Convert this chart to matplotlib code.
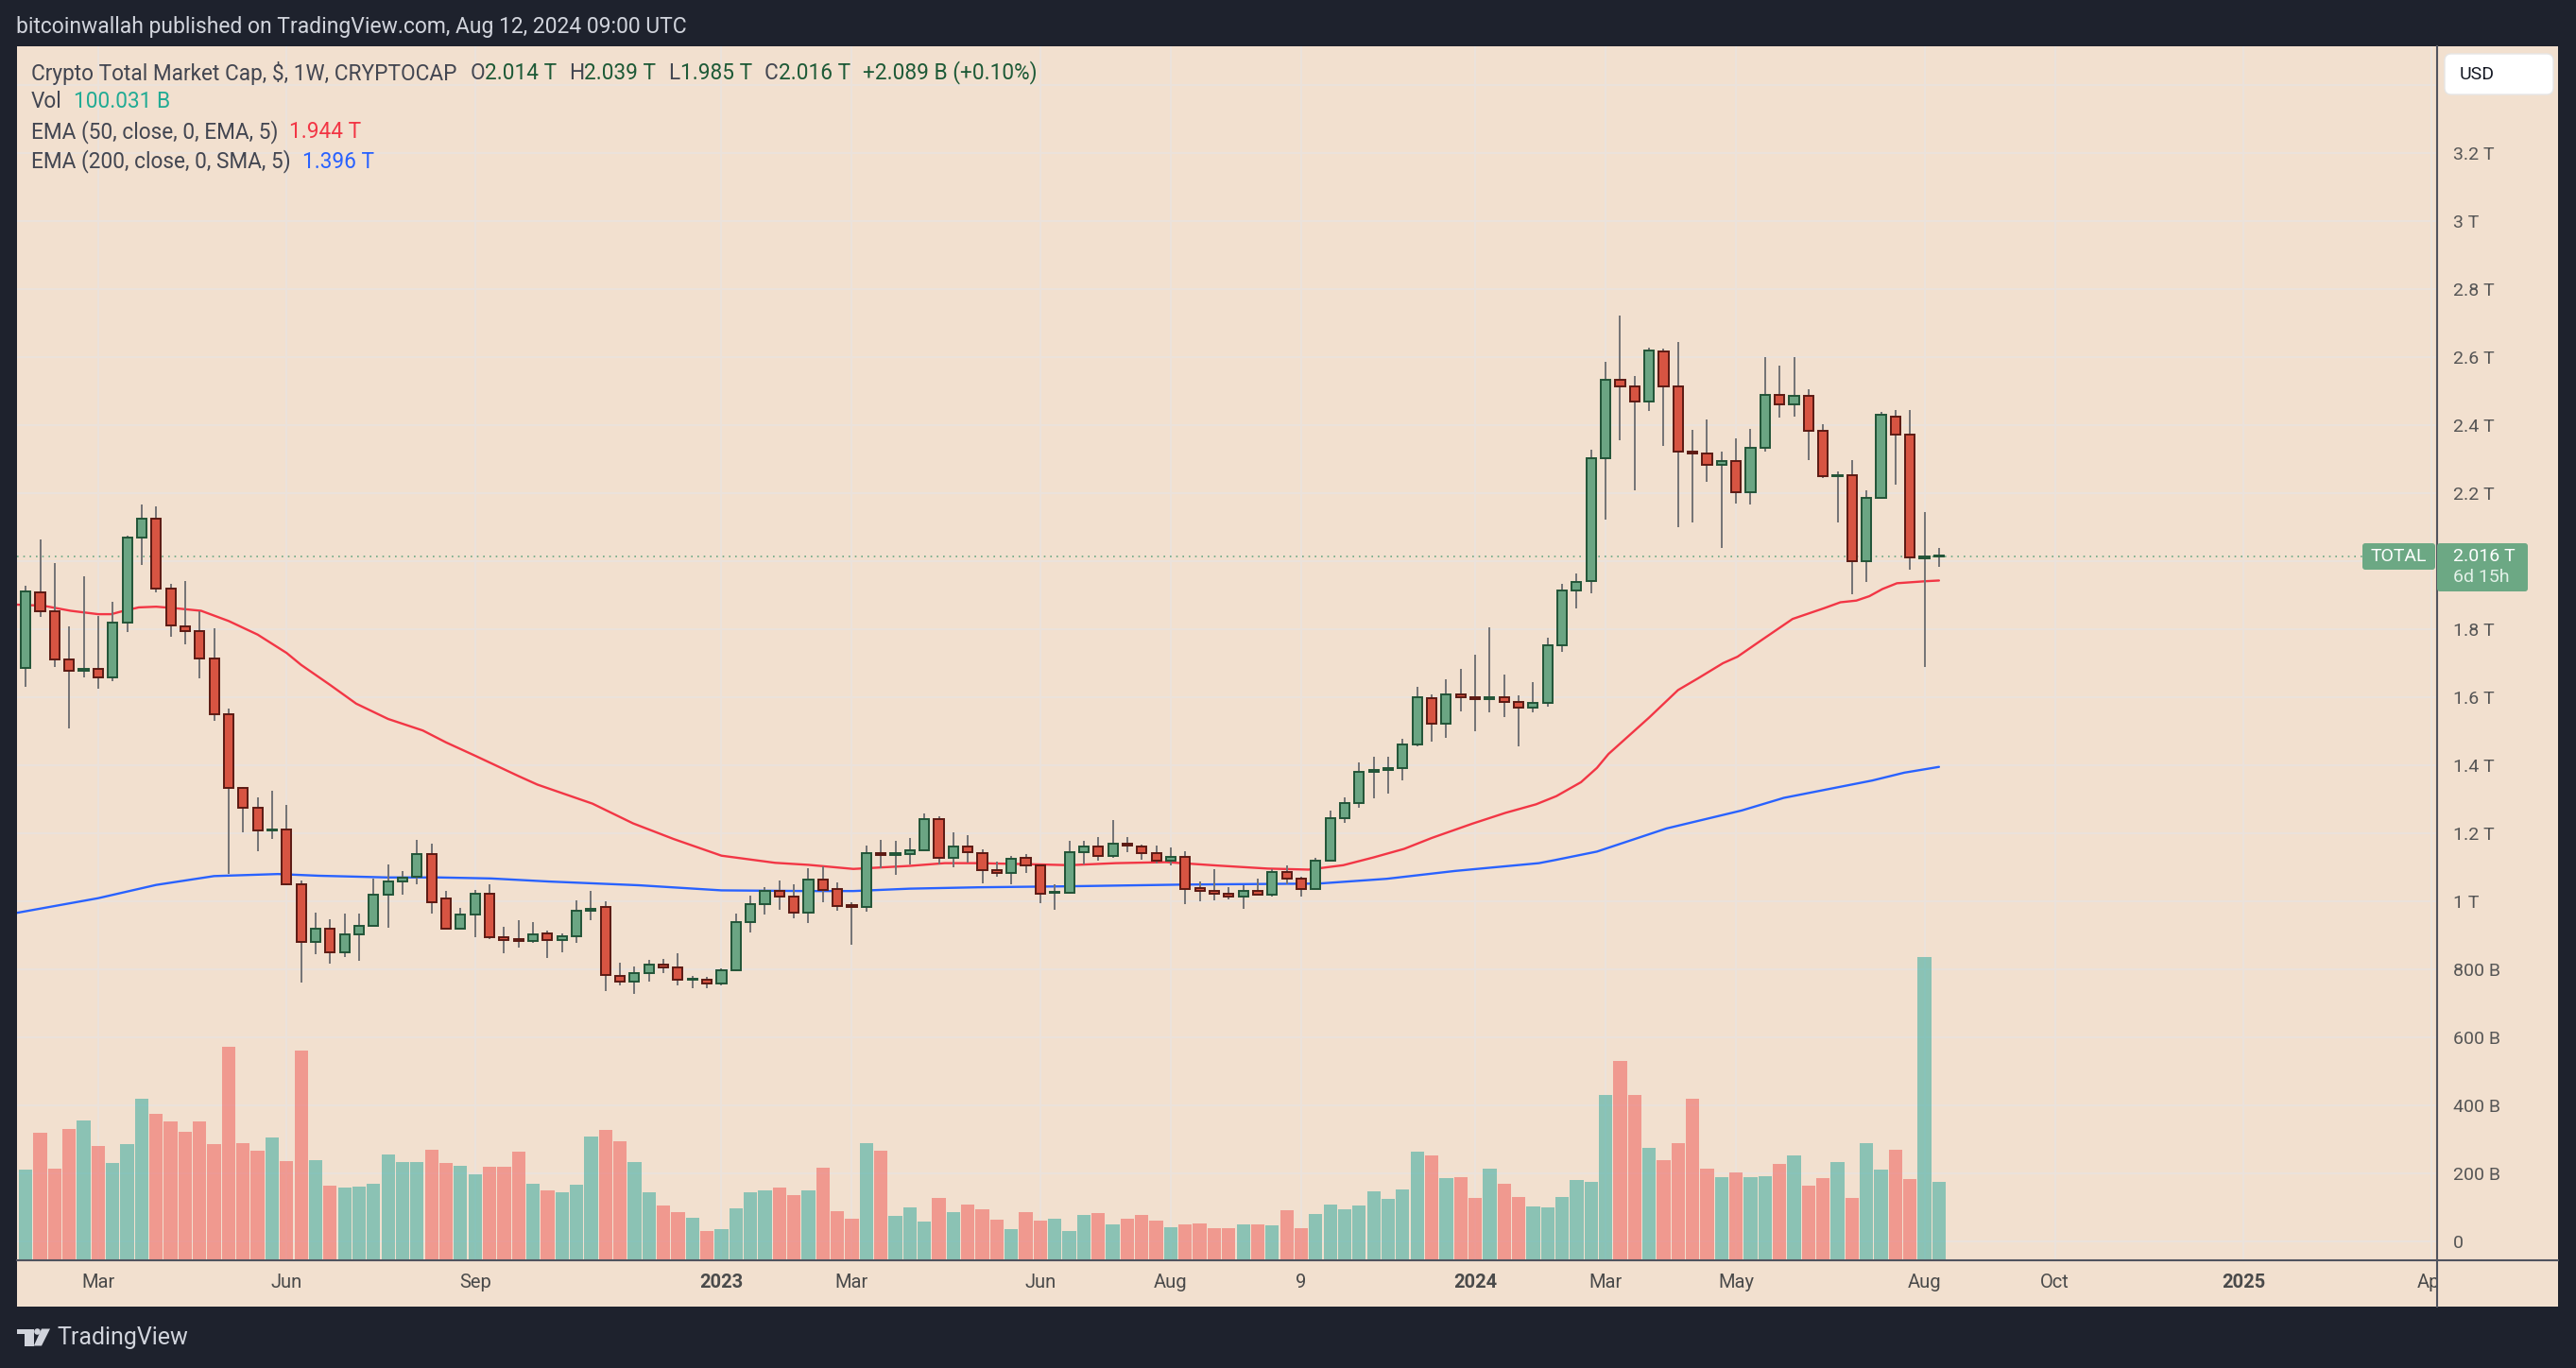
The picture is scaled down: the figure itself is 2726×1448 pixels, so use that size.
import numpy as np
import matplotlib.pyplot as plt
import matplotlib.transforms as mtransforms
from matplotlib.patches import Rectangle, FancyBboxPatch, Polygon, Circle
from matplotlib.lines import Line2D

plt.rcParams['font.family'] = ['Roboto', 'DejaVu Sans']

# --- weekly candles, Crypto Total Market Cap (values in T) ---
start_week = np.datetime64('2022-01-31')
opens = [1.688, 1.910, 1.855, 1.713, 1.680, 1.683, 1.660, 1.819, 2.069, 2.125,
         1.919, 1.810, 1.794, 1.716, 1.551, 1.333, 1.277, 1.208, 1.213, 1.051,
         0.881, 0.919, 0.850, 0.905, 0.930, 1.019, 1.058, 1.072, 1.139, 1.008,
         0.921, 0.961, 1.024, 0.894, 0.888, 0.883, 0.906, 0.886, 0.898, 0.973,
         0.984, 0.781, 0.764, 0.789, 0.814, 0.806, 0.770, 0.771, 0.759, 0.797,
         0.939, 0.992, 1.031, 1.014, 0.967, 1.064, 1.037, 0.989, 0.984, 1.142,
         1.137, 1.140, 1.151, 1.242, 1.128, 1.162, 1.142, 1.092, 1.084, 1.128,
         1.106, 1.025, 1.027, 1.146, 1.163, 1.135, 1.171, 1.163, 1.143, 1.121,
         1.132, 1.040, 1.032, 1.024, 1.016, 1.032, 1.021, 1.088, 1.068, 1.038,
         1.121, 1.246, 1.291, 1.382, 1.388, 1.393, 1.463, 1.599, 1.524, 1.610,
         1.602, 1.594, 1.602, 1.588, 1.571, 1.585, 1.755, 1.914, 1.942, 2.304,
         2.533, 2.514, 2.469, 2.617, 2.514, 2.324, 2.318, 2.285, 2.296, 2.204,
         2.335, 2.491, 2.461, 2.488, 2.385, 2.251, 2.254, 2.000, 2.187, 2.427,
         2.374, 2.009, 2.014]
highs = [1.928, 2.064, 1.995, 1.809, 1.956, 1.839, 1.881, 2.075, 2.167, 2.161,
         1.934, 1.942, 1.853, 1.803, 1.567, 1.337, 1.306, 1.325, 1.283, 1.063,
         0.967, 0.947, 0.964, 0.964, 1.068, 1.109, 1.089, 1.181, 1.170, 1.031,
         0.981, 1.033, 1.050, 0.927, 0.944, 0.939, 0.915, 0.907, 1.003, 1.031,
         1.000, 0.821, 0.809, 0.829, 0.832, 0.848, 0.781, 0.778, 0.803, 0.965,
         1.018, 1.043, 1.063, 1.051, 1.099, 1.103, 1.057, 0.998, 1.165, 1.182,
         1.179, 1.187, 1.260, 1.252, 1.204, 1.196, 1.154, 1.118, 1.135, 1.140,
         1.110, 1.051, 1.178, 1.178, 1.189, 1.239, 1.189, 1.168, 1.164, 1.158,
         1.147, 1.058, 1.096, 1.042, 1.048, 1.067, 1.094, 1.106, 1.072, 1.130,
         1.267, 1.306, 1.408, 1.425, 1.425, 1.478, 1.631, 1.608, 1.653, 1.683,
         1.725, 1.806, 1.667, 1.606, 1.644, 1.775, 1.934, 1.965, 2.328, 2.587,
         2.724, 2.545, 2.628, 2.625, 2.646, 2.386, 2.417, 2.322, 2.361, 2.389,
         2.601, 2.576, 2.601, 2.505, 2.403, 2.266, 2.297, 2.208, 2.439, 2.445,
         2.445, 2.146, 2.039]
lows = [1.632, 1.837, 1.690, 1.510, 1.659, 1.627, 1.648, 1.793, 1.991, 1.909,
        1.778, 1.756, 1.656, 1.532, 1.081, 1.204, 1.148, 1.185, 1.049, 0.763,
        0.846, 0.818, 0.838, 0.826, 0.929, 0.922, 1.020, 1.051, 0.964, 0.919,
        0.917, 0.895, 0.890, 0.848, 0.865, 0.880, 0.835, 0.852, 0.880, 0.944,
        0.738, 0.755, 0.730, 0.766, 0.791, 0.755, 0.746, 0.746, 0.755, 0.795,
        0.908, 0.963, 0.977, 0.952, 0.938, 0.997, 0.972, 0.873, 0.969, 1.097,
        1.080, 1.110, 1.150, 1.108, 1.102, 1.114, 1.055, 1.072, 1.052, 1.083,
        0.994, 0.977, 1.023, 1.108, 1.120, 1.130, 1.145, 1.122, 1.113, 1.106,
        0.993, 1.001, 1.004, 1.006, 0.979, 1.019, 1.015, 1.052, 1.014, 1.036,
        1.120, 1.231, 1.276, 1.304, 1.318, 1.356, 1.456, 1.470, 1.481, 1.559,
        1.501, 1.556, 1.543, 1.456, 1.556, 1.574, 1.734, 1.863, 1.907, 2.122,
        2.356, 2.208, 2.443, 2.341, 2.100, 2.116, 2.234, 2.041, 2.169, 2.167,
        2.323, 2.423, 2.426, 2.298, 2.245, 2.114, 1.904, 1.941, 2.183, 2.225,
        1.977, 1.690, 1.985]
closes = [1.913, 1.853, 1.711, 1.679, 1.682, 1.660, 1.819, 2.069, 2.125, 1.919,
          1.813, 1.794, 1.716, 1.551, 1.333, 1.277, 1.208, 1.213, 1.051, 0.881,
          0.919, 0.850, 0.905, 0.930, 1.019, 1.058, 1.069, 1.139, 0.999, 0.921,
          0.961, 1.024, 0.894, 0.886, 0.885, 0.905, 0.886, 0.898, 0.973, 0.980,
          0.784, 0.764, 0.789, 0.814, 0.806, 0.770, 0.771, 0.759, 0.797, 0.939,
          0.992, 1.031, 1.014, 0.967, 1.064, 1.033, 0.988, 0.984, 1.142, 1.137,
          1.142, 1.151, 1.242, 1.128, 1.162, 1.145, 1.092, 1.084, 1.126, 1.106,
          1.023, 1.027, 1.146, 1.163, 1.135, 1.171, 1.166, 1.143, 1.121, 1.132,
          1.038, 1.032, 1.024, 1.016, 1.032, 1.021, 1.088, 1.068, 1.038, 1.121,
          1.246, 1.291, 1.382, 1.388, 1.393, 1.463, 1.602, 1.524, 1.610, 1.602,
          1.594, 1.602, 1.588, 1.571, 1.585, 1.755, 1.914, 1.939, 2.304, 2.533,
          2.514, 2.469, 2.620, 2.514, 2.324, 2.318, 2.285, 2.296, 2.204, 2.335,
          2.491, 2.461, 2.488, 2.385, 2.251, 2.253, 2.000, 2.187, 2.430, 2.374,
          2.011, 2.014, 2.016]
# weekly volume, billions
volume = [116.3, 164.1, 117.6, 169.0, 180.0, 146.9, 124.9, 149.4, 208.2, 188.6,
          178.8, 165.3, 178.8, 149.4, 275.5, 150.6, 140.8, 158.0, 127.3, 270.6,
          128.6, 95.5, 93.1, 94.3, 98.0, 135.9, 126.1, 126.1, 142.0, 124.9,
          121.2, 110.2, 120.0, 120.0, 139.6, 98.0, 89.4, 86.9, 96.7, 159.2,
          167.8, 153.1, 126.1, 86.9, 69.8, 61.2, 53.9, 36.7, 39.2, 66.1,
          86.9, 89.4, 93.1, 83.3, 89.4, 118.8, 62.4, 52.7, 150.6, 140.8,
          56.3, 67.3, 49.0, 79.6, 61.2, 71.0, 64.9, 51.4, 39.2, 61.2,
          50.2, 52.7, 36.7, 57.6, 60.0, 45.3, 52.7, 57.6, 50.2, 41.6,
          45.3, 46.5, 40.4, 40.4, 45.3, 45.3, 44.1, 63.7, 40.4, 58.8,
          71.0, 64.9, 69.8, 88.2, 78.4, 90.6, 139.6, 134.7, 105.3, 106.5,
          79.6, 117.6, 98.0, 80.8, 68.6, 67.3, 80.8, 102.9, 100.4, 213.1,
          257.1, 213.1, 144.5, 128.6, 150.6, 208.2, 117.6, 106.5, 112.7, 106.5,
          107.8, 123.7, 134.7, 95.5, 105.3, 126.1, 79.6, 150.6, 116.3, 142.0,
          104.1, 391.8, 100.031]

# EMA lines (week index, value in T)
ema50_week = [-0.6, 1.2, 3.1, 5, 5.9, 6.6, 7.8, 9, 10.2, 12.1, 14, 16, 18, 19, 21, 22.8,
              25, 27.4, 29, 31, 34, 35.3, 39.1, 41.9, 44.7, 48, 51.7, 54, 57.1, 61,
              63.4, 65.7, 69.2, 72, 75.2, 78.7, 82.2, 85.7, 88.5, 90.9, 93, 95.1, 97,
              99.8, 102.1, 104.2, 105.6, 107.3, 108.4, 109.2, 112, 114, 115.4, 117.1,
              118.1, 119.8, 121.9, 124.1, 125.2, 126.3, 127.2, 128.1, 129.1, 131.1, 132]
ema50_val = [1.873, 1.870, 1.855, 1.845, 1.845, 1.853, 1.865, 1.867, 1.863, 1.855, 1.825,
             1.785, 1.731, 1.696, 1.637, 1.582, 1.537, 1.503, 1.468, 1.429, 1.369, 1.344,
             1.288, 1.230, 1.184, 1.135, 1.114, 1.108, 1.096, 1.105, 1.113, 1.113, 1.110,
             1.107, 1.113, 1.116, 1.106, 1.097, 1.094, 1.107, 1.130, 1.155, 1.187, 1.229,
             1.261, 1.286, 1.310, 1.351, 1.393, 1.434, 1.541, 1.622, 1.657, 1.701, 1.720,
             1.770, 1.831, 1.863, 1.880, 1.885, 1.898, 1.919, 1.936, 1.942, 1.944]
ema200_week = [-0.6, 5, 9, 13, 17.4, 20.2, 25, 28.5, 32.1, 36.1, 42.3, 48, 54, 57.1, 61,
               65.7, 72, 79.9, 89.2, 93.9, 98.6, 104.4, 105.5, 108.4, 113.2, 118.4, 121.3,
               127.4, 129.6, 132]
ema200_val = [0.967, 1.010, 1.049, 1.075, 1.081, 1.076, 1.071, 1.071, 1.068, 1.059, 1.048,
              1.033, 1.031, 1.031, 1.038, 1.042, 1.045, 1.050, 1.053, 1.067, 1.090, 1.113,
              1.122, 1.147, 1.215, 1.268, 1.305, 1.356, 1.379, 1.396]

price_ticks = [0, 0.2, 0.4, 0.6, 0.8, 1.0, 1.2, 1.4, 1.6, 1.8, 2.2, 2.4, 2.6, 2.8, 3.0, 3.2]
price_labels = ['0', '200 B', '400 B', '600 B', '800 B', '1 T', '1.2 T', '1.4 T', '1.6 T',
                '1.8 T', '2.2 T', '2.4 T', '2.6 T', '2.8 T', '3 T', '3.2 T']
tick_dates = ['2022-03-07', '2022-06-06', '2022-09-05', '2023-01-02', '2023-03-06',
              '2023-06-05', '2023-08-07', '2023-10-09', '2024-01-01', '2024-03-04',
              '2024-05-06', '2024-08-05', '2024-10-07', '2025-01-06', '2025-04-07']
tick_labels = ['Mar', 'Jun', 'Sep', '2023', 'Mar', 'Jun', 'Aug', '9', '2024', 'Mar',
               'May', 'Aug', 'Oct', '2025', 'Apr']

# --- colours ---
DARK = '#1e222d'
BG = '#f2e0cf'
GRID = '#ebe3dc'
UP, UP_EDGE = '#6ba583', '#225437'
DN, DN_EDGE = '#d75442', '#5b1a13'
AXIS_TXT = '#555555'
LEG_TXT = '#434651'

W, H = 2726, 1448
fig = plt.figure(figsize=(W / 100, H / 100), dpi=100, facecolor=DARK)
PX = mtransforms.Affine2D().scale(1, -1).translate(0, H)  # pixel coords from top-left


def fx(px):
    return px / W


def fy(py):
    return 1 - py / H


fig.patches.append(Rectangle((18, 49), 2689, 1334, transform=PX, facecolor=BG,
                             edgecolor='none', zorder=-1))

ax = fig.add_axes([fx(18), fy(1333), fx(2578) - fx(18), fy(49) - fy(1333)])
ax.set_facecolor(BG)
for sp in ax.spines.values():
    sp.set_visible(False)

o = np.array(opens)
h = np.array(highs)
l = np.array(lows)
c = np.array(closes)
v = np.array(volume)
x = np.arange(len(o))
up = c >= o

# grid
for p in np.arange(0, 3.41, 0.2):
    ax.axhline(p, color=GRID, lw=1.4, zorder=0.5)
tick_pos = (np.array(tick_dates, dtype='datetime64[D]') - start_week) / np.timedelta64(7, 'D')
for t in tick_pos:
    ax.axvline(t, color=GRID, lw=1.4, zorder=0.5)

# volume pane: bottom of the chart, own scale
VOL_TOP = 1572.0
vol_trans = mtransforms.blended_transform_factory(
    ax.transData, mtransforms.Affine2D().scale(1, 1 / VOL_TOP) + ax.transAxes)
vol_colors = np.where(up, '#26a69a', '#ef5350')
ax.bar(x, v, width=0.93, color=vol_colors, alpha=0.5, transform=vol_trans, zorder=1,
       linewidth=0)

# moving averages
ax.plot(ema200_week, ema200_val, color='#2962ff', lw=1.7, zorder=2.5, solid_capstyle='round')
ax.plot(ema50_week, ema50_val, color='#f23645', lw=1.7, zorder=2.5, solid_capstyle='round')

# last price line
ax.axhline(c[-1], color='#6ca884', ls=(0, (1, 3)), lw=1.2, zorder=2)

# candles
ax.vlines(x, l, h, color='#737375', lw=1.4, zorder=3)
body_h = np.maximum(np.abs(c - o), 0.0035)
ax.bar(x, body_h, bottom=np.minimum(o, c), width=0.66,
       color=np.where(up, UP, DN), edgecolor=np.where(up, UP_EDGE, DN_EDGE),
       linewidth=1.4, zorder=4)

ax.set_xlim(-0.6, 166.3)
ax.set_ylim(-0.0519, 3.5147)

ax.yaxis.tick_right()
ax.set_yticks(price_ticks)
ax.set_yticklabels(price_labels)
ax.tick_params(axis='y', length=0, pad=13, labelsize=14, labelcolor=AXIS_TXT)
ax.set_xticks(tick_pos)
ax.set_xticklabels(tick_labels)
ax.tick_params(axis='x', length=0, pad=11, labelsize=14.5, labelcolor='#4a4a4a')
for lab in ax.get_xticklabels():
    if lab.get_text().isdigit() and len(lab.get_text()) == 4:
        lab.set_fontweight('bold')

# cover the part of the last date label that runs under the price scale
fig.patches.append(Rectangle((2579, 1334), 128, 49, transform=PX, facecolor=BG,
                             edgecolor='none', zorder=5))
# scale separators
fig.lines.append(Line2D([2578.5, 2578.5], [49, 1383], transform=PX, color='#50535e',
                        lw=1.5, zorder=6))
fig.lines.append(Line2D([18, 2707], [1333.5, 1333.5], transform=PX, color='#50535e',
                        lw=1.5, zorder=6))

# USD box
fig.patches.append(FancyBboxPatch((2587, 57), 115, 43, boxstyle='round,pad=0,rounding_size=7',
                                  transform=PX, facecolor='white', edgecolor='#e6e6e6',
                                  zorder=7))
fig.text(2603, 79, 'USD', transform=PX, fontsize=14, color='#131722', va='center',
         ha='left', zorder=8)

# last price labels
fig.patches.append(FancyBboxPatch((2500, 575), 77, 28, boxstyle='round,pad=0,rounding_size=3',
                                  transform=PX, facecolor='#6ca884', edgecolor='none', zorder=7))
fig.text(2538, 589, 'TOTAL', transform=PX, fontsize=14, color='white', va='center',
         ha='center', zorder=8)
fig.patches.append(FancyBboxPatch((2579, 575), 96, 51, boxstyle='round,pad=0,rounding_size=3',
                                  transform=PX, facecolor='#6ca884', edgecolor='none', zorder=7))
fig.text(2596, 589, f'{c[-1]:.3f} T', transform=PX, fontsize=14, color='white',
         va='center', ha='left', zorder=8)
fig.text(2596, 611, '6d 15h', transform=PX, fontsize=14, color='#e3f1e8',
         va='center', ha='left', zorder=8)

# header texts
fig.text(17, 28, 'bitcoinwallah published on TradingView.com, Aug 12, 2024 09:00 UTC',
         transform=PX, fontsize=16.5, color='#d1d4dc', va='center', ha='left')

renderer = fig.canvas.get_renderer()


def draw_runs(x0, y0, runs, size=16.3):
    xx = x0
    for txt, col, gap in runs:
        t = fig.text(xx, y0, txt, transform=PX, fontsize=size, color=col,
                     va='center', ha='left', zorder=8)
        xx += t.get_window_extent(renderer).width + gap


VAL = '#1e5a37'
draw_runs(33, 77, [('Crypto Total Market Cap, $, 1W, CRYPTOCAP', LEG_TXT, 14),
                   ('O', LEG_TXT, 0), (f'{o[-1]:.3f} T', VAL, 13),
                   ('H', LEG_TXT, 0), (f'{h[-1]:.3f} T', VAL, 13),
                   ('L', LEG_TXT, 0), (f'{l[-1]:.3f} T', VAL, 13),
                   ('C', LEG_TXT, 0), (f'{c[-1]:.3f} T', VAL, 13),
                   ('+2.089 B (+0.10%)', VAL, 0)])
draw_runs(33, 108, [('Vol', LEG_TXT, 12), (f'{v[-1]:.3f} B', '#22ab94', 0)])
draw_runs(33, 140, [('EMA (50, close, 0, EMA, 5)', LEG_TXT, 12),
                    (f'{ema50_val[-1]:.3f} T', '#f23645', 0)])
draw_runs(33, 171, [('EMA (200, close, 0, SMA, 5)', LEG_TXT, 12),
                    (f'{ema200_val[-1]:.3f} T', '#2962ff', 0)])

# TradingView footer logo
LOGO = '#d1d4dc'
fig.patches.append(Polygon([(18, 1406.5), (35.5, 1406.5), (35.5, 1424.5), (26, 1424.5),
                            (26, 1412), (18, 1412)], closed=True, transform=PX,
                           facecolor=LOGO, edgecolor='none'))
fig.patches.append(Circle((39.5, 1409.5), 3.3, transform=PX, facecolor=LOGO, edgecolor='none'))
fig.patches.append(Polygon([(44, 1406.5), (53, 1406.5), (44, 1424.5), (35.8, 1424.5)],
                           closed=True, transform=PX, facecolor=LOGO, edgecolor='none'))
fig.text(60, 1416, 'TradingView', transform=PX, fontsize=18, color=LOGO, va='center',
         ha='left')

fig.savefig('out.png', dpi=100, facecolor=DARK)
